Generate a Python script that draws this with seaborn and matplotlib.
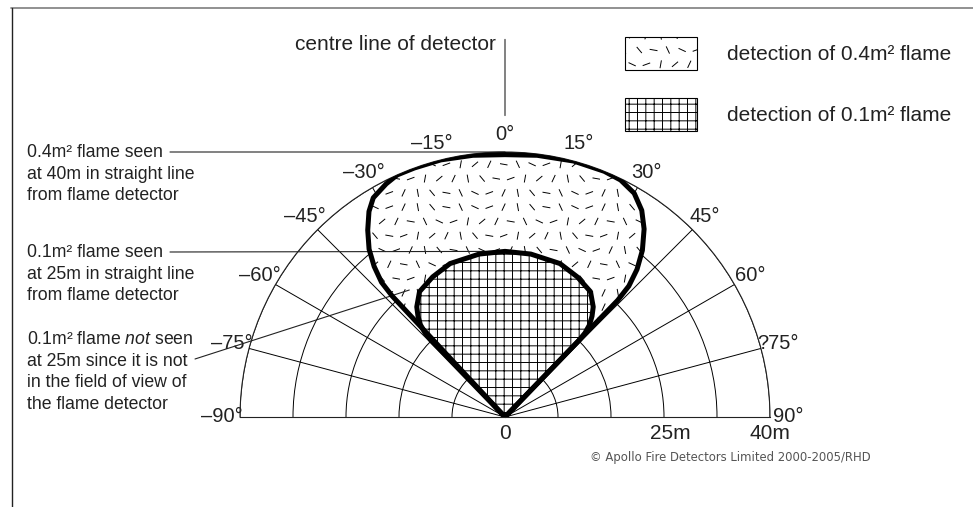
import numpy as np
import matplotlib
matplotlib.use('Agg')
import matplotlib.pyplot as plt
import matplotlib.hatch as mhatch
from matplotlib.path import Path
from matplotlib.patches import Patch
from matplotlib.lines import Line2D
import seaborn as sns

# polar grid of the detector field of view
angle_ticks = [-90, -75, -60, -45, -30, -15, 0, 15, 30, 45, 60, 75, 90]
angle_labels = ['–90°', '–75°', '–60°', '–45°', '–30°', '–15°', '0°',
                '15°', '30°', '45°', '60°', '?75°', '90°']
range_rings = [8, 16, 24, 32, 40]
range_ticks = [0, 25, 40]
range_labels = ['0', '25m', '40m']

# 0.4m2 flame detection area (angle in degrees, range in metres)
big_angle = [-43, -43, -42.5, -41, -39, -36.3, -33.5, -31, -27, -24, -20, -14, -7, 0,
             7, 15, 22, 26, 30, 33.5, 36.5, 39.5, 41.8, 43.4, 44, 44]
big_range = [0, 25, 27.6, 30.1, 32.6, 35, 37.2, 38.6, 39.5, 40, 40, 40, 39.8, 39.6,
             39.8, 40, 40, 39.8, 39, 37.4, 35.3, 32.6, 29.9, 27.2, 24.5, 0]

# 0.1m2 flame detection area
small_angle = [-44, -44, -43.6, -42.5, -40.8, -38.7, -34.3, -27.3, -19.7, -9, 0,
               9, 19.7, 27.3, 34.3, 38.7, 40.8, 42.5, 43.6, 44, 44]
small_range = [0, 16, 17.5, 18.9, 20.1, 21.3, 22.9, 23.8, 24.6, 24.9, 25,
               24.9, 24.6, 23.8, 22.9, 21.3, 20.1, 18.9, 17.5, 16, 0]

legend_labels = ['detection of 0.4m² flame', 'detection of 0.1m² flame']

# short scattered dashes used as the texture of the 0.4m2 area (hatch '.')
dash_angles = [65, 155, 100, 20, 130, 80, 170, 40, 115]


class DashHatch(mhatch.HatchPatternBase):
    def __init__(self, hatch, density):
        self.n = 7 if '.' in hatch else 0
        self.num_vertices = 2 * self.n * self.n

    def set_vertices_and_codes(self, vertices, codes):
        k = 0
        for i in range(self.n):
            for j in range(self.n):
                x = (j + 0.25 + 0.5 * (i % 2)) / self.n
                y = (i + 0.5) / self.n
                a = np.deg2rad(dash_angles[(3 * i + 2 * j) % len(dash_angles)])
                dx, dy = 0.035 * np.cos(a), 0.035 * np.sin(a)
                vertices[k] = (x - dx, y - dy)
                vertices[k + 1] = (x + dx, y + dy)
                codes[k] = Path.MOVETO
                codes[k + 1] = Path.LINETO
                k += 2


mhatch._hatch_types = [h for h in mhatch._hatch_types
                       if h is not mhatch.SmallFilledCircles] + [DashHatch]

sns.set_style('white')
plt.rcParams['font.family'] = ['Liberation Sans', 'DejaVu Sans']
plt.rcParams['mathtext.fontset'] = 'custom'
plt.rcParams['mathtext.it'] = 'Liberation Sans:italic'
plt.rcParams['mathtext.rm'] = 'Liberation Sans'
plt.rcParams['hatch.linewidth'] = 0.7
ink = '#222222'

W, H = 973, 507
fig = plt.figure(figsize=(W / 100, H / 100), dpi=100)
fig.patch.set_facecolor('white')

# origin of the chart and outer radius in pixels; the half disc sits in the
# middle of a square axes box, so the box is 2R high and centred R/2 above the origin
cx, cy, R = 505, 417, 265
box_top = cy - 1.5 * R
ax = fig.add_axes([(cx - R) / W, (H - box_top - 2 * R) / H, 2 * R / W, 2 * R / H],
                  projection='polar')
ax.set_theta_zero_location('N')
ax.set_theta_direction(-1)
ax.set_thetamin(-90)
ax.set_thetamax(90)
ax.set_ylim(0, 40)
ax.set_thetagrids(angle_ticks, labels=[''] * len(angle_ticks))
ax.set_rgrids(range_rings, labels=[''] * len(range_rings))
ax.grid(True, color='black', lw=0.7)
ax.set_axisbelow(True)
ax.tick_params(axis='both', length=0)
for s in ax.spines.values():
    s.set_color(ink)
    s.set_linewidth(0.8)

# detection areas
ax.fill(np.deg2rad(big_angle), big_range, facecolor='white', edgecolor='black',
        lw=0, hatch='.', zorder=2)
ax.fill(np.deg2rad(small_angle), small_range, facecolor='white', edgecolor='black',
        lw=0, hatch='++', zorder=2.1)
sns.lineplot(x=np.deg2rad(big_angle), y=big_range, sort=False, estimator=None,
             color='black', lw=3.6, solid_joinstyle='round', ax=ax, zorder=4)
sns.lineplot(x=np.deg2rad(small_angle), y=small_range, sort=False, estimator=None,
             color='black', lw=3.6, solid_joinstyle='round', ax=ax, zorder=4)

# angle labels
for a, lab in zip(angle_ticks, angle_labels):
    ax.text(np.deg2rad(a), 42.7, lab, ha='center', va='center', fontsize=14.5,
            color=ink, clip_on=False)
# range labels along the baseline
for r, lab in zip(range_ticks, range_labels):
    ax.annotate(lab, xy=(np.deg2rad(90), r), xytext=(0, -5), textcoords='offset points',
                ha='center', va='top', fontsize=15, color=ink, annotation_clip=False)

# centre line of detector
line_kw = dict(arrowstyle='-', color=ink, lw=0.8, shrinkA=0, shrinkB=0)
ax.annotate('', xy=(0, 45.5), xytext=(0, 57), arrowprops=line_kw, annotation_clip=False)
fig.text(496 / W, 1 - 45 / H, 'centre line of detector', ha='right', va='center',
         fontsize=15, color=ink)

# left hand notes with leader lines
note_kw = dict(ha='left', va='top', fontsize=12.7, color=ink, linespacing=1.35)
fig.text(27 / W, 1 - 144 / H, '0.4m² flame seen\nat 40m in straight line\nfrom flame detector',
         **note_kw)
fig.text(27 / W, 1 - 244 / H, '0.1m² flame seen\nat 25m in straight line\nfrom flame detector',
         **note_kw)
fig.text(27 / W, 1 - 331 / H, '0.1m² flame $\\mathit{not}$ seen\nat 25m since it is not\n'
         'in the field of view of\nthe flame detector', **note_kw)
ax.annotate('', xy=(0, 40), xytext=(170 / W, 1 - 152 / H), textcoords='figure fraction',
            arrowprops=line_kw, annotation_clip=False, zorder=3)
ax.annotate('', xy=(0, 25), xytext=(170 / W, 1 - 252 / H), textcoords='figure fraction',
            arrowprops=line_kw, annotation_clip=False, zorder=3)
ax.annotate('', xy=(np.deg2rad(-37), 24), xytext=(195 / W, 1 - 359 / H),
            textcoords='figure fraction', arrowprops=line_kw, annotation_clip=False, zorder=3)

# legend
handles = [Patch(facecolor='white', edgecolor='black', hatch='.', lw=0.8, label=legend_labels[0]),
           Patch(facecolor='white', edgecolor='black', hatch='++', lw=0.8, label=legend_labels[1])]
fig.legend(handles=handles, loc='upper left', bbox_to_anchor=(625 / W, 1 - 37 / H),
           frameon=False, fontsize=15, handlelength=3.45, handleheight=2.06,
           handletextpad=1.45, labelspacing=1.35, borderpad=0, borderaxespad=0,
           labelcolor=ink)

# page frame and copyright
fig.add_artist(Line2D([11 / W, 1], [1 - 8 / H, 1 - 8 / H], color='#888888', lw=1.3,
                      transform=fig.transFigure))
fig.add_artist(Line2D([11.5 / W, 11.5 / W], [0, 1 - 8 / H], color=ink, lw=1,
                      transform=fig.transFigure))
fig.text(590 / W, 1 - 457 / H, '© Apollo Fire Detectors Limited 2000-2005/RHD',
         fontsize=8.4, color='#555555', family='DejaVu Sans', va='center')

fig.savefig('out.png', dpi=100, facecolor='white')
